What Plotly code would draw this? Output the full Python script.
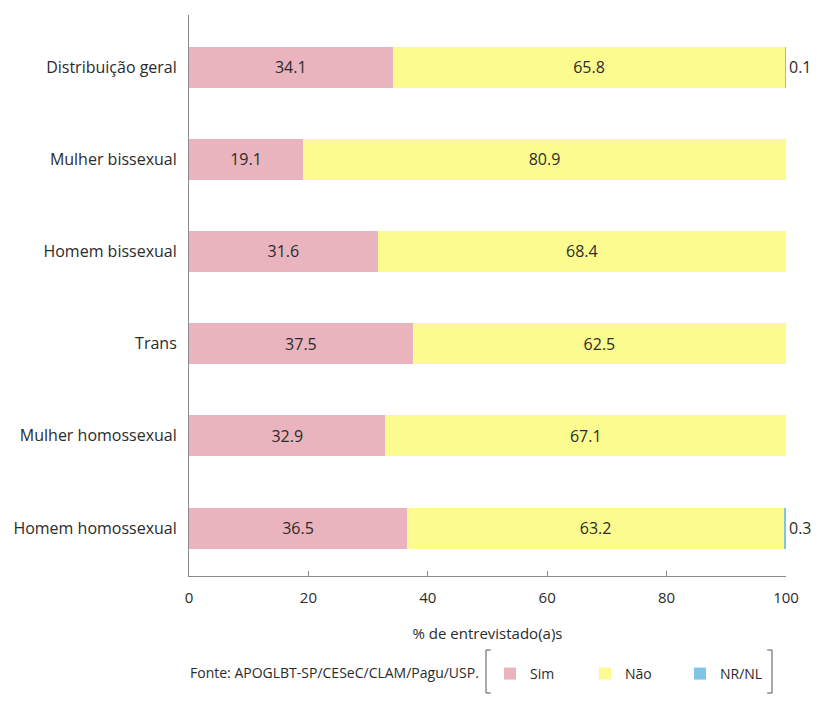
import plotly.graph_objects as go

categories = ["Distribuição geral", "Mulher bissexual", "Homem bissexual",
              "Trans", "Mulher homossexual", "Homem homossexual"]
sim = [34.1, 19.1, 31.6, 37.5, 32.9, 36.5]
nao = [65.8, 80.9, 68.4, 62.5, 67.1, 63.2]
nrnl = [0.1, 0.0, 0.0, 0.0, 0.0, 0.3]
x_ticks = [0, 20, 40, 60, 80, 100]
source_note = "Fonte: APOGLBT-SP/CESeC/CLAM/Pagu/USP."

FONT = "Open Sans"
TXT = "#2b2b2b"

def fmt(vals):
    return ["" if v == 0 else f"{v:.1f}" for v in vals]

fig = go.Figure()
fig.add_trace(go.Bar(
    y=categories, x=sim, name="Sim", orientation="h",
    marker=dict(color="#E9B4BE", line=dict(width=0)),
    text=fmt(sim), textposition="inside", insidetextanchor="middle",
    textfont=dict(family=FONT, size=16, color=TXT),
))
fig.add_trace(go.Bar(
    y=categories, x=nao, name="Não", orientation="h",
    marker=dict(color="#FBFB90", line=dict(width=0)),
    text=fmt(nao), textposition="inside", insidetextanchor="middle",
    textfont=dict(family=FONT, size=16, color=TXT),
))
fig.add_trace(go.Bar(
    y=categories, x=nrnl, name="NR/NL", orientation="h",
    marker=dict(color="#7EC4E6", line=dict(width=0)),
    text=fmt(nrnl), textposition="outside",
    textfont=dict(family=FONT, size=16, color=TXT),
    cliponaxis=False,
))

# bracket around the legend
def bracket(x0, x1, y0, y1):
    return [
        dict(type="path", xref="paper", yref="paper",
             path=f"M {x0+0.008},{y1} L {x0},{y1} L {x0},{y0} L {x0+0.008},{y0}",
             line=dict(color="#555", width=1)),
        dict(type="path", xref="paper", yref="paper",
             path=f"M {x1-0.008},{y1} L {x1},{y1} L {x1},{y0} L {x1-0.008},{y0}",
             line=dict(color="#555", width=1)),
    ]

W, H = 825, 718
L, R, T, B = 189, 39, 15, 142
pw, ph = W - L - R, H - T - B

def px_x(x):
    return (x - L) / pw

def px_y(y):
    return (H - B - y) / ph

fig.update_layout(
    width=W, height=H,
    margin=dict(l=L, r=R, t=T, b=B),
    barmode="stack", bargap=0.555,
    plot_bgcolor="white", paper_bgcolor="white",
    font=dict(family=FONT, size=15, color=TXT),
    xaxis=dict(
        range=[0, 100], tickvals=x_ticks, showgrid=False, zeroline=False,
        showline=True, linecolor="#8a8a8a", linewidth=1,
        ticks="inside", ticklen=5, tickcolor="#8a8a8a",
        ticklabelstandoff=8,
        tickfont=dict(family=FONT, size=15, color=TXT),
        title=dict(text="% de entrevistado(a)s", standoff=22,
                   font=dict(family=FONT, size=15, color=TXT)),
    ),
    yaxis=dict(
        categoryorder="array", categoryarray=categories,
        range=[5.52, -0.565], showgrid=False, zeroline=False,
        showline=True, linecolor="#8a8a8a", linewidth=1,
        ticks="", ticklabelstandoff=8,
        tickfont=dict(family=FONT, size=16, color=TXT),
    ),
    showlegend=True,
    legend=dict(
        orientation="h", x=px_x(490), y=px_y(658), xanchor="left", yanchor="top",
        font=dict(family=FONT, size=14, color=TXT),
        entrywidth=50, bgcolor="rgba(0,0,0,0)", traceorder="normal",
    ),
    annotations=[dict(
        text=source_note, xref="paper", yref="paper",
        x=px_x(481), y=px_y(672), xanchor="right", yanchor="middle",
        showarrow=False, font=dict(family=FONT, size=14, color=TXT),
    )],
    shapes=bracket(px_x(486), px_x(772), px_y(693), px_y(650)),
)

fig.write_html("out.html")
